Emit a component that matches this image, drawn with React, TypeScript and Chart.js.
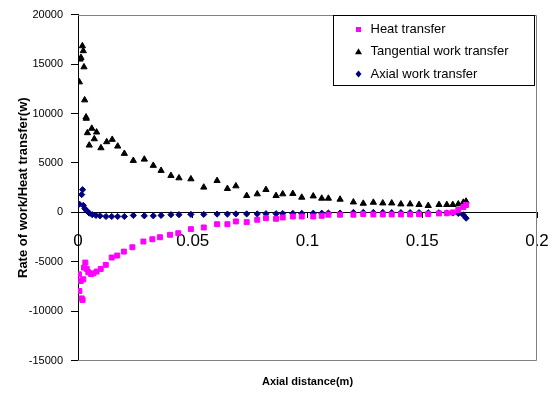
import React, { useEffect, useRef } from 'react';
import { Chart, registerables } from 'chart.js';

Chart.register(...registerables);

// Shared axial positions (m) sampled by all three series after the inlet region
const midX = [0.0492, 0.0548, 0.0606, 0.0651, 0.0688, 0.0735, 0.0781, 0.0819, 0.0863, 0.0892, 0.0936, 0.0975, 0.1025, 0.1062, 0.1091, 0.1142, 0.12, 0.1243];
const tailX = [0.1287, 0.1328, 0.1367, 0.1407, 0.1447, 0.1486, 0.1526, 0.1573, 0.1607, 0.1633, 0.1657, 0.1679, 0.1691];

// Heat transfer
const heatLeadX = [0.0004, 0.0006, 0.0012, 0.0016, 0.002, 0.0023, 0.0026, 0.0032, 0.0038, 0.0045, 0.0057, 0.0067, 0.0081, 0.0099, 0.0121, 0.0147, 0.0171, 0.02, 0.0237, 0.0285, 0.0324, 0.0357, 0.0401, 0.0437];
const heatY = [
  -6260, -7940, -6930, -8690, -8850, -6760, -5580, -5070, -5710, -6050, -6220, -6160, -5980, -5710, -5300, -4560, -4360, -3960, -3520, -2940, -2710, -2510, -2260, -2100,
  -1690, -1520, -1190, -1190, -910, -980, -740, -580, -640, -510, -410, -410, -410, -340, -230, -230, -230, -170,
  -200, -200, -200, -200, -200, -180, -160, -100, -80, 0, 250, 550, 750,
];

// Tangential work transfer
const tanLeadX = [0.0006, 0.0009, 0.0013, 0.0019, 0.0023, 0.0026, 0.0029, 0.0035, 0.0036, 0.0041, 0.0049, 0.006, 0.0071, 0.0081, 0.01, 0.0125, 0.0149, 0.0173, 0.0202, 0.0241, 0.0289, 0.0328, 0.0362, 0.0405, 0.044];
const tanY = [
  13180, 15480, 15650, 16830, 16330, 14700, 11360, 9630, 9500, 8040, 6790, 8490, 7430, 8110, 6520, 7130, 7370, 6690, 5950, 5240, 5370, 4740, 4230, 3720, 3480,
  3380, 2540, 3210, 2400, 2670, 1690, 1860, 2300, 1690, 1860, 1900, 1520, 1650, 1420, 1420, 1320, 1040, 910,
  1010, 940, 940, 840, 840, 780, 680, 780, 780, 780, 840, 1010, 1120,
];

// Axial work transfer
const axLeadX = [0.0006, 0.0016, 0.002, 0.0023, 0.003, 0.0038, 0.0049, 0.0062, 0.0078, 0.0096, 0.0122, 0.0147, 0.0173, 0.0202, 0.0241, 0.0289, 0.0328, 0.0362, 0.0405, 0.044];
const axY = [
  840, 1800, 2300, 710, 380, 170, -70, -230, -300, -340, -410, -410, -410, -410, -300, -340, -340, -300, -230, -230,
  -200, -200, -170, -170, -150, -150, -150, -130, -130, -110, -100, -100, -80, -80, -60, -60, 0, 0,
  0, 0, -20, -20, -20, -20, -30, -30, -50, -60, -100, -250, -580,
];

const seriesLabels = ['Heat transfer', 'Tangential work transfer', 'Axial work transfer'];
const seriesColors = ['#FF00FF', '#000000', '#000080'];
const seriesStyles = ['rect', 'triangle', 'rectRot'];

const xMin = 0, xMax = 0.2, xStep = 0.05;
const yMin = -15000, yMax = 20000, yStep = 5000;

const FONT = "Arial, 'Liberation Sans', sans-serif";

export default function App() {
  const ref = useRef<HTMLCanvasElement>(null);

  useEffect(() => {
    if (!ref.current) return;
    const pts = (xs: number[], ys: number[]) => xs.map((x, i) => ({ x, y: ys[i] }));
    const allX = [
      heatLeadX.concat(midX, tailX),
      tanLeadX.concat(midX, tailX),
      axLeadX.concat(midX, tailX),
    ];
    const allY = [heatY, tanY, axY];
    const radii = [3.5, 3.6, 3.1];

    const framePlugin = {
      id: 'frame',
      beforeDatasetsDraw(chart: any) {
        const { ctx, chartArea: a } = chart;
        ctx.save();
        ctx.strokeStyle = '#808080';
        ctx.lineWidth = 1;
        ctx.beginPath();
        ctx.moveTo(a.left, Math.round(a.top) + 0.5);
        ctx.lineTo(Math.round(a.right) - 0.5, Math.round(a.top) + 0.5);
        ctx.lineTo(Math.round(a.right) - 0.5, Math.round(a.bottom) - 0.5);
        ctx.lineTo(a.left, Math.round(a.bottom) - 0.5);
        ctx.stroke();
        ctx.restore();
      },
      afterDraw(chart: any) {
        const { ctx, chartArea: a } = chart;
        const w = 201, h = 70;
        const bx = Math.round(a.right) - 3 - w + 0.5;
        const by = Math.round(a.top) + 0.5;
        ctx.save();
        ctx.fillStyle = '#ffffff';
        ctx.fillRect(bx, by, w, h);
        ctx.strokeStyle = '#000000';
        ctx.lineWidth = 1;
        ctx.strokeRect(bx, by, w, h);
        ctx.font = `13px ${FONT}`;
        ctx.textBaseline = 'middle';
        ctx.textAlign = 'left';
        chart.data.datasets.forEach((ds: any, i: number) => {
          const cy = by + 14 + i * 22.3;
          const mx = bx + 25;
          ctx.fillStyle = ds.backgroundColor;
          ctx.beginPath();
          if (ds.pointStyle === 'rect') {
            ctx.rect(mx - 2.5, cy - 2.5, 5, 5);
          } else if (ds.pointStyle === 'triangle') {
            ctx.moveTo(mx, cy - 3.5);
            ctx.lineTo(mx + 3.5, cy + 2.5);
            ctx.lineTo(mx - 3.5, cy + 2.5);
            ctx.closePath();
          } else {
            ctx.moveTo(mx, cy - 3.5);
            ctx.lineTo(mx + 3, cy);
            ctx.lineTo(mx, cy + 3.5);
            ctx.lineTo(mx - 3, cy);
            ctx.closePath();
          }
          ctx.fill();
          ctx.fillStyle = '#000000';
          ctx.fillText(ds.label, bx + 37, cy);
        });
        ctx.restore();
      },
    };

    const chart = new Chart(ref.current, {
      type: 'scatter',
      data: {
        datasets: seriesLabels.map((label, i) => ({
          label,
          data: pts(allX[i], allY[i]),
          backgroundColor: seriesColors[i],
          borderColor: seriesColors[i],
          borderWidth: 1,
          pointStyle: seriesStyles[i] as any,
          pointRadius: radii[i],
          showLine: false,
        })),
      },
      options: {
        animation: false,
        responsive: true,
        maintainAspectRatio: false,
        layout: { padding: { top: 14, right: 18, bottom: 0, left: 0 } },
        plugins: {
          legend: { display: false },
          tooltip: { enabled: false },
          title: {
            display: true,
            position: 'bottom',
            fullSize: false,
            text: 'Axial distance(m)',
            color: '#000',
            font: { family: FONT, size: 11, weight: 'bold' },
            padding: { top: 15, bottom: 5 },
          },
        },
        scales: {
          x: {
            type: 'linear',
            position: { y: 0 } as any,
            min: xMin,
            max: xMax,
            afterFit: (s: any) => { s.paddingRight = 12; s.paddingLeft = 0; },
            ticks: {
              stepSize: xStep,
              color: '#000',
              font: { family: FONT, size: 17 },
              padding: 14,
              maxRotation: 0,
              callback: (v: any) => String(Number(Number(v).toFixed(2))),
            },
            grid: { drawOnChartArea: false, drawTicks: true, tickLength: 5, color: '#000' },
            border: { display: true, color: '#000', width: 1 },
          },
          y: {
            type: 'linear',
            position: 'left',
            min: yMin,
            max: yMax,
            afterFit: (s: any) => { s.width = 78; },
            ticks: {
              stepSize: yStep,
              color: '#000',
              font: { family: FONT, size: 11 },
              padding: 8,
              callback: (v: any) => String(v),
            },
            grid: { drawOnChartArea: false, drawTicks: true, tickLength: 7, color: '#000' },
            border: { display: true, color: '#000', width: 1 },
            title: {
              display: true,
              text: 'Rate of work/Heat transfer(w)',
              color: '#000',
              font: { family: FONT, size: 13, weight: 'bold' },
              padding: { top: 16, bottom: 0 },
            },
          },
        },
      },
      plugins: [framePlugin],
    });
    return () => chart.destroy();
  }, []);

  return (
    <div style={{ position: 'fixed', left: 0, top: 0, width: 555, height: 394, background: '#ffffff' }}>
      <canvas ref={ref} />
    </div>
  );
}
